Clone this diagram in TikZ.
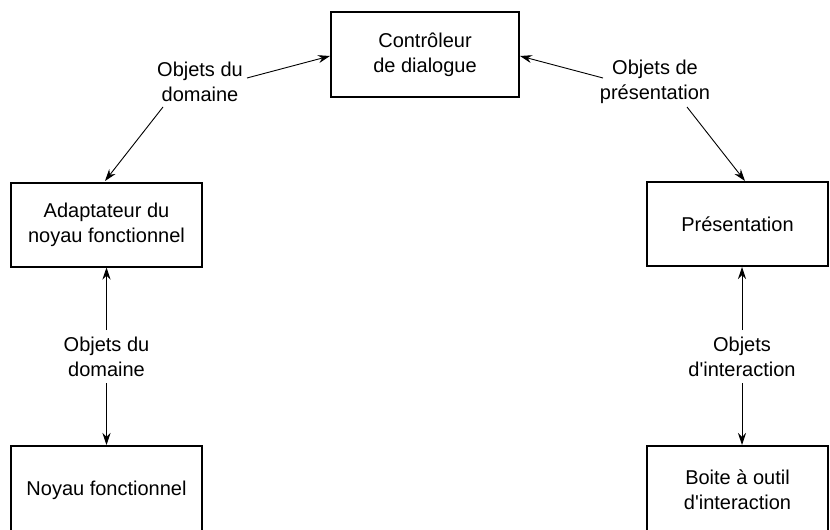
\documentclass[tikz,border=0pt]{standalone}
\usepackage{fontspec}
\setmainfont{Liberation Sans}[Ligatures=TeXOff]
\usetikzlibrary{arrows.meta}
\begin{document}
\begin{tikzpicture}[x=1pt,y=-1pt,
  box/.style={draw,line width=2pt,align=center,inner sep=0pt,
    font=\fontsize{20}{25}\selectfont},
  lab/.style={align=center,inner sep=0pt,font=\fontsize{20}{25}\selectfont},
  arr/.style={-{Stealth[length=12pt,width=8pt,inset=4pt]},line width=0.9pt}]
\useasboundingbox (0,0) rectangle (830,530);
\fill[white] (0,0) rectangle (830,530);
% boxes
\node[box,minimum width=188pt,minimum height=85pt] (ctrl) at (425,54.5) {Contrôleur\\de dialogue};
\node[box,minimum width=191pt,minimum height=84pt] (adapt) at (106.5,224.5) {Adaptateur du\\noyau fonctionnel};
\node[box,minimum width=181pt,minimum height=84pt] (pres) at (737.5,224) {Présentation};
\node[box,minimum width=191pt,minimum height=88pt] (noyau) at (106.5,490) {Noyau fonctionnel};
\node[box,minimum width=181pt,minimum height=88pt] (boite) at (737.5,490) {Boite à outil\\d'interaction};
% labels
\node[lab] (l1) at (200,82) {Objets du\\domaine};
\node[lab] (l2) at (655,82) {Objets de\\présentation};
\node[lab] (l3) at (106.5,357) {Objets du\\domaine};
\node[lab] (l4) at (742,357) {Objets\\d'interaction};
% arrow start points
\coordinate (a1) at (247,78);
\coordinate (a2) at (163,107);
\coordinate (b1) at (603,78);
\coordinate (b2) at (687,107);
\coordinate (c1) at (106.5,330);
\coordinate (c2) at (106.5,383);
\coordinate (d1) at (742,330);
\coordinate (d2) at (742,383);
% arrows
\draw[arr] (a1) -- ([yshift=-1.5pt]ctrl.west);
\draw[arr] (a2) -- (105,181);
\draw[arr] (b1) -- ([yshift=-1.5pt]ctrl.east);
\draw[arr] (b2) -- (745,181);
\draw[arr] (c1) -- (c1 |- adapt.south);
\draw[arr] (c2) -- (c2 |- noyau.north);
\draw[arr] (d1) -- (d1 |- pres.south);
\draw[arr] (d2) -- (d2 |- boite.north);
\end{tikzpicture}
\end{document}
